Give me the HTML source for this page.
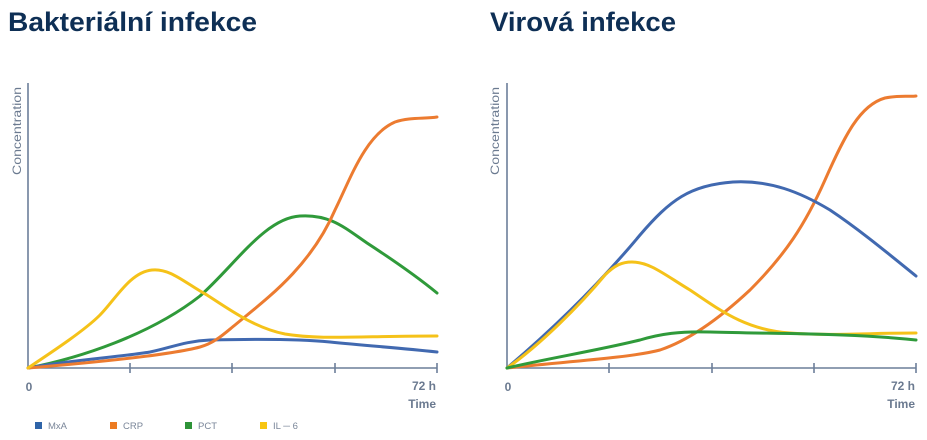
<!DOCTYPE html>
<html>
<head>
<meta charset="utf-8">
<style>
  html,body{margin:0;padding:0;background:#fff;}
  svg{display:block;}
  .title{font-family:"Liberation Sans",Arial,sans-serif;font-weight:bold;font-size:27px;fill:#0e2f55;}
  .lbl{font-family:"Liberation Sans",Arial,sans-serif;font-size:12px;fill:#6b7a90;}
  .leg{font-family:"Liberation Sans",Arial,sans-serif;font-size:9.5px;fill:#7a8699;}
  .ax{stroke:#6c7f99;stroke-width:1.6;fill:none;}
  .s{fill:none;stroke-width:3;stroke-linecap:round;stroke-linejoin:round;}
</style>
</head>
<body>
<svg width="927" height="440" viewBox="0 0 927 440" xmlns="http://www.w3.org/2000/svg">
  <!-- Titles -->
  <text class="title" x="8" y="31" textLength="249" lengthAdjust="spacingAndGlyphs">Bakteriální infekce</text>
  <text class="title" x="490" y="31" textLength="186" lengthAdjust="spacingAndGlyphs">Virová infekce</text>

  <!-- LEFT CHART -->
  <g>
    <line class="ax" x1="28" y1="83" x2="28" y2="368"/>
    <line class="ax" x1="28" y1="368" x2="437" y2="368"/>
    <line class="ax" x1="130" y1="363" x2="130" y2="373"/>
    <line class="ax" x1="232" y1="363" x2="232" y2="373"/>
    <line class="ax" x1="335" y1="363" x2="335" y2="373"/>
    <line class="ax" x1="437" y1="363" x2="437" y2="373"/>
    <text class="lbl" x="0" y="0" transform="translate(21,131) rotate(-90)" text-anchor="middle" font-size="12.5" textLength="88" lengthAdjust="spacingAndGlyphs">Concentration</text>
    <text class="lbl" x="29" y="391" text-anchor="middle" font-weight="bold">0</text>
    <text class="lbl" x="436" y="390" text-anchor="end" font-weight="bold" fill="#5f6f86">72 h</text>
    <text class="lbl" x="436" y="408" text-anchor="end" font-weight="bold" fill="#5f6f86">Time</text>

    <!-- PCT green -->
    <path class="s" stroke="#2f9a3a" d="M28,368 C80,358 150,335 200,296 C235,265 265,218 300,216 C330,214 345,228 367,243 C390,258 415,275 437,293"/>
    <!-- MxA blue -->
    <path class="s" stroke="#4169b0" d="M28,368 C70,360 120,357 150,352 C170,348 185,341 210,340 C250,339 300,339 330,342 C370,346 400,348 437,352"/>
    <!-- CRP orange -->
    <path class="s" stroke="#ec7b30" d="M28,368 C100,362 170,355 200,347 C215,343 225,333 235,325 C265,300 310,268 335,210 C350,180 365,135 395,122 C410,117 425,119 437,117"/>
    <!-- IL-6 yellow -->
    <path class="s" stroke="#f5c219" d="M28,368 C55,350 85,330 100,315 C115,300 130,272 152,270 C170,268 185,283 207,295 C230,310 255,328 285,334 C320,340 360,336 437,336"/>
  </g>

  <!-- RIGHT CHART -->
  <g>
    <line class="ax" x1="507" y1="83" x2="507" y2="368"/>
    <line class="ax" x1="507" y1="368" x2="916" y2="368"/>
    <line class="ax" x1="609" y1="363" x2="609" y2="373"/>
    <line class="ax" x1="712" y1="363" x2="712" y2="373"/>
    <line class="ax" x1="814" y1="363" x2="814" y2="373"/>
    <line class="ax" x1="916" y1="363" x2="916" y2="373"/>
    <text class="lbl" x="0" y="0" transform="translate(499,131) rotate(-90)" text-anchor="middle" font-size="12.5" textLength="88" lengthAdjust="spacingAndGlyphs">Concentration</text>
    <text class="lbl" x="508" y="391" text-anchor="middle" font-weight="bold">0</text>
    <text class="lbl" x="915" y="390" text-anchor="end" font-weight="bold" fill="#5f6f86">72 h</text>
    <text class="lbl" x="915" y="408" text-anchor="end" font-weight="bold" fill="#5f6f86">Time</text>

    <!-- CRP orange -->
    <path class="s" stroke="#ec7b30" d="M507,368 C560,362 630,358 660,350 C690,340 720,318 750,290 C785,255 805,225 825,180 C845,135 860,105 885,98 C900,95 910,97 916,96"/>
    <!-- MxA blue -->
    <path class="s" stroke="#4169b0" d="M507,368 C540,340 590,295 640,235 C670,200 690,185 733,182 C770,180 800,192 830,210 C860,230 890,255 916,276"/>
    <!-- IL-6 yellow -->
    <path class="s" stroke="#f5c219" d="M507,368 C540,345 580,305 605,275 C615,265 622,262 632,262 C650,262 665,275 690,290 C720,310 745,330 790,333 C830,336 870,333 916,333"/>
    <!-- PCT green -->
    <path class="s" stroke="#2f9a3a" d="M507,368 C550,358 600,350 640,340 C660,334 680,331 710,332 C780,334 850,333 916,340"/>
  </g>

  <!-- Legend -->
  <rect x="35" y="422" width="7" height="7" fill="#2f64a8"/>
  <text class="leg" x="48" y="429">MxA</text>
  <rect x="110" y="422" width="7" height="7" fill="#ec7b22"/>
  <text class="leg" x="123" y="429">CRP</text>
  <rect x="185" y="422" width="7" height="7" fill="#2e9338"/>
  <text class="leg" x="198" y="429">PCT</text>
  <rect x="260" y="422" width="7" height="7" fill="#f7c512"/>
  <text class="leg" x="273" y="429">IL ─ 6</text>
</svg>
</body>
</html>
